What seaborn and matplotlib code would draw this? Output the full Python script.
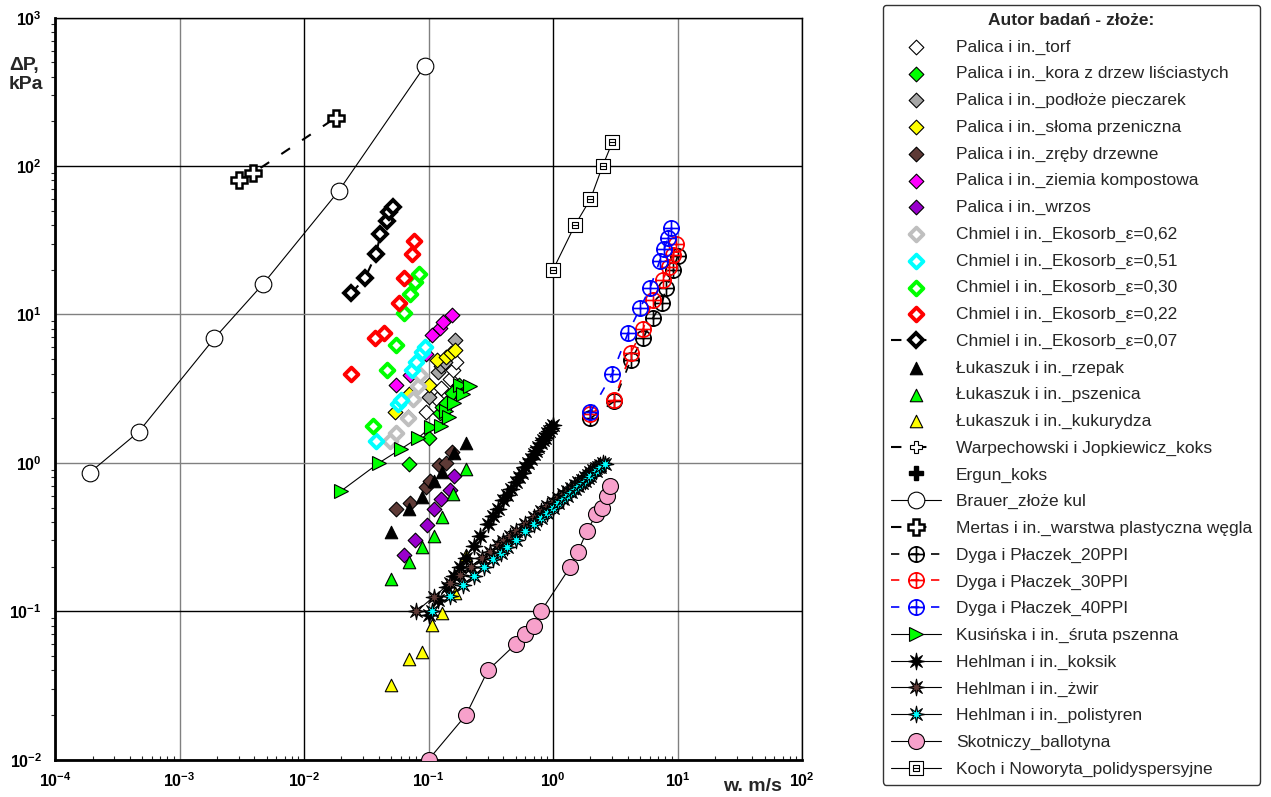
import matplotlib
matplotlib.use("Agg")
import matplotlib.pyplot as plt
import seaborn as sns
from matplotlib.path import Path
from matplotlib.lines import Line2D

sns.set_theme(style="white")
plt.rcParams['font.family'] = ['Liberation Sans', 'DejaVu Sans']
plt.rcParams['mathtext.fontset'] = 'custom'
plt.rcParams['mathtext.rm'] = 'Liberation Sans'
plt.rcParams['mathtext.bf'] = 'Liberation Sans:bold'

# ---------------- data ----------------
torf_x = [0.096, 0.116, 0.127, 0.148, 0.158, 0.165]
torf_y = [2.2, 2.7, 3.2, 3.7, 4.2, 4.8]
kora_x = [0.07, 0.101, 0.124, 0.128, 0.138, 0.155, 0.176]
kora_y = [0.98, 1.48, 2.16, 2.39, 2.52, 2.97, 3.35]
podloze_x = [0.068, 0.1, 0.12, 0.127, 0.135, 0.162]
podloze_y = [2.05, 2.8, 4.1, 4.5, 4.8, 6.7]
sloma_x = [0.054, 0.07, 0.1, 0.117, 0.138, 0.151, 0.162]
sloma_y = [2.2, 2.9, 3.35, 4.9, 5.2, 5.5, 5.8]
zreby_x = [0.055, 0.071, 0.095, 0.102, 0.122, 0.137, 0.153]
zreby_y = [0.49, 0.54, 0.69, 0.76, 0.97, 1.0, 1.19]
ziemia_x = [0.055, 0.071, 0.096, 0.107, 0.124, 0.131, 0.153]
ziemia_y = [3.35, 3.9, 5.4, 7.3, 8.1, 8.9, 9.9]
wrzos_x = [0.063, 0.078, 0.098, 0.11, 0.127, 0.148, 0.159]
wrzos_y = [0.24, 0.30, 0.38, 0.49, 0.57, 0.66, 0.81]

eko62_x = [0.049, 0.055, 0.068, 0.075, 0.082, 0.085]
eko62_y = [1.4, 1.6, 2.0, 2.7, 3.3, 3.9]
eko51_x = [0.038, 0.057, 0.06, 0.073, 0.08, 0.088, 0.093]
eko51_y = [1.4, 2.5, 2.65, 4.2, 4.8, 5.6, 6.0]
eko30_x = [0.036, 0.0465, 0.055, 0.063, 0.071, 0.078, 0.084]
eko30_y = [1.78, 4.2, 6.2, 10.3, 13.7, 16.6, 18.7]
eko22_x = [0.024, 0.037, 0.044, 0.058, 0.063, 0.074, 0.077]
eko22_y = [4.0, 6.9, 7.5, 11.9, 17.7, 25.6, 31.3]
eko07_x = [0.024, 0.031, 0.038, 0.041, 0.046, 0.048, 0.052]
eko07_y = [13.9, 17.7, 25.6, 34.7, 42.9, 49.3, 53.3]

rzepak_x = [0.05, 0.07, 0.089, 0.111, 0.128, 0.159, 0.2]
rzepak_y = [0.34, 0.49, 0.59, 0.76, 0.87, 1.17, 1.37]
pszenica_x = [0.05, 0.07, 0.089, 0.11, 0.128, 0.158, 0.2]
pszenica_y = [0.165, 0.216, 0.27, 0.32, 0.43, 0.62, 0.91]
kukurydza_x = [0.05, 0.07, 0.089, 0.107, 0.128, 0.162, 0.2]
kukurydza_y = [0.032, 0.048, 0.053, 0.081, 0.097, 0.133, 0.24]

brauer_x = [1.9e-4, 4.7e-4, 1.9e-3, 4.7e-3, 0.019, 0.093]
brauer_y = [0.86, 1.62, 6.9, 16.1, 68, 470]
mertas_x = [3.0e-3, 3.9e-3, 0.018]
mertas_y = [80, 90, 212]

dyga20_x = [2.0, 3.1, 4.2, 5.3, 6.3, 7.5, 8.1, 9.2, 10.0]
dyga20_y = [2.0, 2.6, 4.9, 6.9, 9.4, 11.9, 15.0, 20.0, 24.6]
dyga30_x = [2.0, 3.1, 4.2, 5.3, 6.3, 7.6, 8.5, 9.2, 9.8]
dyga30_y = [2.15, 2.65, 5.5, 8.0, 12.5, 17.0, 21.0, 25.0, 30.0]
dyga40_x = [2.0, 3.0, 4.0, 5.0, 6.0, 7.2, 7.8, 8.4, 8.9]
dyga40_y = [2.2, 4.0, 7.5, 11.0, 15.0, 23.0, 27.5, 32.7, 38.0]

kus_x = [0.02, 0.04, 0.06, 0.083, 0.105, 0.125, 0.138, 0.146, 0.159, 0.18, 0.19, 0.214]
kus_y = [0.65, 1.0, 1.24, 1.48, 1.75, 1.78, 2.22, 2.05, 2.53, 3.35, 2.9, 3.3]

koksik_x = [0.1, 0.12, 0.14, 0.16, 0.18, 0.2, 0.23, 0.26, 0.3, 0.33, 0.36, 0.4, 0.43,
            0.46, 0.5, 0.53, 0.56, 0.6, 0.63, 0.66, 0.7, 0.73, 0.76, 0.8, 0.83, 0.86,
            0.9, 0.93, 0.96, 1.0]
koksik_y = [0.094, 0.12, 0.146, 0.173, 0.2, 0.23, 0.275, 0.32, 0.39, 0.44, 0.49, 0.56,
            0.61, 0.67, 0.74, 0.8, 0.86, 0.94, 1.0, 1.06, 1.14, 1.2, 1.27, 1.36, 1.42,
            1.48, 1.58, 1.64, 1.71, 1.8]
zwir_x = [0.08, 0.11, 0.15, 0.18, 0.22, 0.27, 0.31, 0.36, 0.4, 0.45, 0.5, 0.6, 0.7, 0.8,
          0.9, 1.0, 1.1, 1.2, 1.3, 1.4, 1.5, 1.6, 1.7, 1.8, 1.9, 2.0, 2.1, 2.2, 2.3, 2.4, 2.5]
zwir_y = [0.1, 0.125, 0.156, 0.176, 0.2, 0.23, 0.252, 0.278, 0.298, 0.322, 0.345, 0.39,
          0.431, 0.471, 0.509, 0.546, 0.58, 0.615, 0.65, 0.681, 0.71, 0.744, 0.77, 0.804,
          0.83, 0.862, 0.89, 0.918, 0.945, 0.973, 1.0]
polist_x = [0.107, 0.15, 0.19, 0.23, 0.28, 0.33, 0.38, 0.43, 0.5, 0.6, 0.7, 0.8, 0.9, 1.0,
            1.1, 1.2, 1.3, 1.4, 1.5, 1.6, 1.7, 1.8, 1.9, 2.0, 2.2, 2.4, 2.6]
polist_y = [0.1, 0.127, 0.151, 0.173, 0.2, 0.224, 0.248, 0.272, 0.3, 0.345, 0.385, 0.424,
            0.461, 0.498, 0.533, 0.567, 0.6, 0.634, 0.666, 0.697, 0.729, 0.759, 0.789,
            0.818, 0.877, 0.933, 0.99]

skot_x = [0.1, 0.2, 0.3, 0.5, 0.6, 0.7, 0.8, 1.38, 1.58, 1.88, 2.23, 2.49, 2.71, 2.85]
skot_y = [0.01, 0.02, 0.04, 0.06, 0.07, 0.08, 0.1, 0.2, 0.25, 0.35, 0.45, 0.5, 0.6, 0.7]

koch_x = [1.0, 1.5, 2.0, 2.5, 3.0]
koch_y = [20, 40, 60, 100, 145]

xticks = [1e-4, 1e-3, 1e-2, 1e-1, 1e0, 1e1, 1e2]
xlabels = ['-4', '-3', '-2', '-1', '0', '1', '2']
yticks = [1e-2, 1e-1, 1e0, 1e1, 1e2, 1e3]
ylabels = ['-2', '-1', '0', '1', '2', '3']

# ---------------- markers ----------------
oplus = Path.make_compound_path(
    Path.unit_circle(),
    Path([[-1, 0], [1, 0]], [Path.MOVETO, Path.LINETO]),
    Path([[0, -1], [0, 1]], [Path.MOVETO, Path.LINETO]))
sq = [Path.MOVETO, Path.LINETO, Path.LINETO, Path.LINETO, Path.CLOSEPOLY]
boxminus = Path.make_compound_path(
    Path([[-1, -1], [1, -1], [1, 1], [-1, 1], [-1, -1]], sq),
    Path([[-.5, -.5], [.5, -.5], [.5, .5], [-.5, .5], [-.5, -.5]], sq),
    Path([[-.5, 0], [.5, 0]], [Path.MOVETO, Path.LINETO]))
star8 = Path.unit_regular_star(8, 0.35)
dash = (0, (5, 7))

fig = plt.figure(figsize=(12.71, 7.97), dpi=100)
ax = fig.add_axes([0.0433, 0.0468, 0.5877, 0.931])
ax.set_xscale('log')
ax.set_yscale('log')


def scat(x, y, label, marker, size, face, edge='black', lw=0.8):
    sns.scatterplot(x=x, y=y, marker=marker, s=size ** 2, color=face, edgecolor=edge,
                    linewidth=lw, label=label, legend=False, ax=ax, zorder=3)


def line(x, y, label, marker, size, face, edge='black', lw=0.8, ls='-', lc='black', mew=0.8):
    sns.lineplot(x=x, y=y, estimator=None, sort=False, marker=marker, markersize=size,
                 markerfacecolor=face, markeredgecolor=edge, markeredgewidth=mew,
                 color=lc, linewidth=lw, linestyle=ls, label=label, legend=False,
                 ax=ax, zorder=3)


scat(torf_x, torf_y, 'Palica i in._torf', 'D', 7.5, 'white')
scat(kora_x, kora_y, 'Palica i in._kora z drzew liściastych', 'D', 7.5, '#00FF00')
scat(podloze_x, podloze_y, 'Palica i in._podłoże pieczarek', 'D', 7.5, '#A6A6A6')
scat(sloma_x, sloma_y, 'Palica i in._słoma przeniczna', 'D', 7.5, '#FFFF00')
scat(zreby_x, zreby_y, 'Palica i in._zręby drzewne', 'D', 7.5, '#5E3A36')
scat(ziemia_x, ziemia_y, 'Palica i in._ziemia kompostowa', 'D', 7.5, '#FF00FF')
scat(wrzos_x, wrzos_y, 'Palica i in._wrzos', 'D', 7.5, '#9900CC')
scat(eko62_x, eko62_y, 'Chmiel i in._Ekosorb_ε=0,62', 'D', 7, 'white', '#BFBFBF', 2.8)
scat(eko51_x, eko51_y, 'Chmiel i in._Ekosorb_ε=0,51', 'D', 7, 'white', '#00FFFF', 2.8)
scat(eko30_x, eko30_y, 'Chmiel i in._Ekosorb_ε=0,30', 'D', 7, 'white', '#00FF00', 2.8)
scat(eko22_x, eko22_y, 'Chmiel i in._Ekosorb_ε=0,22', 'D', 7, 'white', '#FF0000', 2.8)
line(eko07_x, eko07_y, 'Chmiel i in._Ekosorb_ε=0,07', 'D', 7, 'white', 'black',
     lw=1.5, ls=dash, mew=2.8)
scat(rzepak_x, rzepak_y, 'Łukaszuk i in._rzepak', '^', 9, 'black')
scat(pszenica_x, pszenica_y, 'Łukaszuk i in._pszenica', '^', 9, '#00FF00')
scat(kukurydza_x, kukurydza_y, 'Łukaszuk i in._kukurydza', '^', 9, '#FFFF00')
line(brauer_x, brauer_y, 'Brauer_złoże kul', 'o', 12, 'white')
line(mertas_x, mertas_y, 'Mertas i in._warstwa plastyczna węgla', 'P', 11, 'white',
     lw=1.5, ls=dash, mew=1.8)
line(dyga20_x, dyga20_y, 'Dyga i Płaczek_20PPI', oplus, 11, 'none', 'black',
     lw=1.2, ls=dash, lc='black', mew=1.2)
line(dyga30_x, dyga30_y, 'Dyga i Płaczek_30PPI', oplus, 11, 'none', '#FF0000',
     lw=1.2, ls=dash, lc='#FF0000', mew=1.2)
line(dyga40_x, dyga40_y, 'Dyga i Płaczek_40PPI', oplus, 11, 'none', '#0000FF',
     lw=1.2, ls=dash, lc='#0000FF', mew=1.2)
line(kus_x, kus_y, 'Kusińska i in._śruta pszenna', '>', 10, '#00FF00')
line(koksik_x, koksik_y, 'Hehlman i in._koksik', star8, 12, 'black')
line(zwir_x, zwir_y, 'Hehlman i in._żwir', star8, 12, '#5E3A36')
line(polist_x, polist_y, 'Hehlman i in._polistyren', star8, 12, '#00FFFF')
line(skot_x, skot_y, 'Skotniczy_ballotyna', 'o', 11.5, '#F7A1CB')
line(koch_x, koch_y, 'Koch i Noworyta_polidyspersyjne', boxminus, 10, 'white')

# axes styling
ax.set_xlim(1e-4, 1e2)
ax.set_ylim(1e-2, 1e3)
ax.set_xticks(xticks)
ax.set_xticklabels([r'$\mathbf{10^{%s}}$' % s for s in xlabels])
ax.set_yticks(yticks)
ax.set_yticklabels([r'$\mathbf{10^{%s}}$' % s for s in ylabels])
ax.tick_params(axis='both', which='major', labelsize=11.5, colors='black', width=1, length=6)
ax.tick_params(axis='x', which='major', direction='inout', length=10)
ax.tick_params(axis='x', which='minor', direction='in', length=3, width=0.8, bottom=True)
ax.tick_params(axis='y', which='minor', direction='out', length=3, width=0.8, left=True)
ax.set_xlabel('')
ax.set_ylabel('')
for side in ['left', 'bottom']:
    ax.spines[side].set_linewidth(2)
    ax.spines[side].set_color('black')
for side in ['top', 'right']:
    ax.spines[side].set_linewidth(1)
    ax.spines[side].set_color('black')

ax.grid(True, which='major', linewidth=1)
xgrid = ['black', '#808080', 'black', '#808080', 'black', '#808080', 'black']
ygrid = ['black', 'black', '#808080', '#808080', 'black', 'black']
for t, c in zip(ax.xaxis.get_major_ticks(), xgrid):
    t.gridline.set_color(c)
for t, c in zip(ax.yaxis.get_major_ticks(), ygrid):
    t.gridline.set_color(c)
ax.set_axisbelow(True)

fig.text(0.007, 0.906, 'ΔP,\nkPa', fontsize=14, fontweight='bold', ha='left', va='center',
         linespacing=1.15)
fig.text(0.592, 0.002, 'w. m/s', fontsize=14, fontweight='bold', ha='center', va='bottom')

# legend
handles, labels = ax.get_legend_handles_labels()
lookup = dict(zip(labels, handles))
lookup['Warpechowski i Jopkiewicz_koks'] = Line2D(
    [], [], marker='P', markersize=9, markerfacecolor='white', markeredgecolor='black',
    markeredgewidth=0.8, color='black', linewidth=1.5, linestyle=dash)
lookup['Ergun_koks'] = Line2D([], [], marker='P', markersize=10, markerfacecolor='black',
                              markeredgecolor='black', linestyle='none')
order = ['Palica i in._torf', 'Palica i in._kora z drzew liściastych',
         'Palica i in._podłoże pieczarek', 'Palica i in._słoma przeniczna',
         'Palica i in._zręby drzewne', 'Palica i in._ziemia kompostowa', 'Palica i in._wrzos',
         'Chmiel i in._Ekosorb_ε=0,62', 'Chmiel i in._Ekosorb_ε=0,51',
         'Chmiel i in._Ekosorb_ε=0,30', 'Chmiel i in._Ekosorb_ε=0,22',
         'Chmiel i in._Ekosorb_ε=0,07', 'Łukaszuk i in._rzepak', 'Łukaszuk i in._pszenica',
         'Łukaszuk i in._kukurydza', 'Warpechowski i Jopkiewicz_koks', 'Ergun_koks',
         'Brauer_złoże kul', 'Mertas i in._warstwa plastyczna węgla',
         'Dyga i Płaczek_20PPI', 'Dyga i Płaczek_30PPI', 'Dyga i Płaczek_40PPI',
         'Kusińska i in._śruta pszenna', 'Hehlman i in._koksik', 'Hehlman i in._żwir',
         'Hehlman i in._polistyren', 'Skotniczy_ballotyna', 'Koch i Noworyta_polidyspersyjne']
leg = fig.legend([lookup[k] for k in order], order, loc='upper left',
                 bbox_to_anchor=(883 / 1271, 1 - 5 / 797), frameon=True, fancybox=True,
                 fontsize=12.5, title='Autor badań - złoże:',
                 title_fontproperties={'weight': 'bold', 'size': 12.5},
                 handlelength=2.9, handletextpad=0.85, labelspacing=0.66, borderpad=0.45,
                 borderaxespad=0)
leg.get_frame().set_edgecolor('black')
leg.get_frame().set_linewidth(1)

plt.savefig('out.png', dpi=100)
